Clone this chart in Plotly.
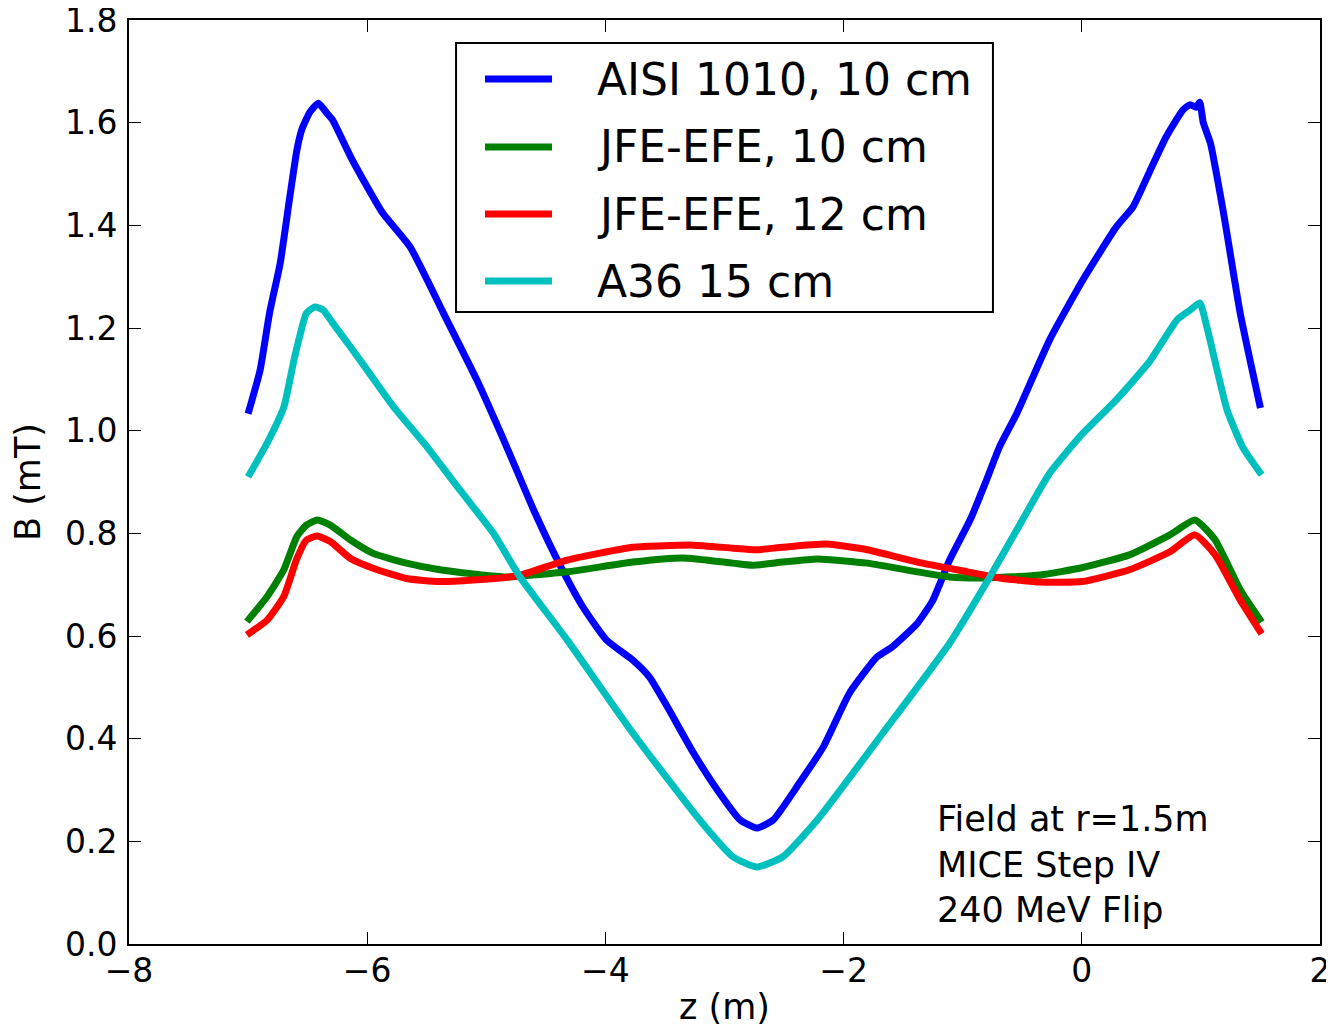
import plotly.graph_objects as go

# ---- data ----
aisi_z = [-7.00, -6.90, -6.82, -6.73, -6.65, -6.59, -6.55, -6.48, -6.41, -6.34, -6.29, -6.14,
          -6.00, -5.87, -5.64, -5.36, -5.08, -4.83, -4.59, -4.39, -4.19, -3.99, -3.77, -3.63,
          -3.48, -3.26, -3.06, -2.87, -2.73, -2.59, -2.37, -2.17, -1.95, -1.72, -1.59, -1.38,
          -1.25, -1.11, -0.93, -0.80, -0.69, -0.545, -0.27, 0.01, 0.29, 0.43, 0.57, 0.71,
          0.85, 0.91, 0.96, 0.99, 1.02, 1.08, 1.19, 1.33, 1.50]
aisi_b = [1.033, 1.117, 1.229, 1.327, 1.455, 1.547, 1.586, 1.621, 1.638, 1.619, 1.605, 1.534,
          1.475, 1.424, 1.358, 1.229, 1.099, 0.969, 0.839, 0.742, 0.657, 0.592, 0.553, 0.520,
          0.462, 0.372, 0.300, 0.242, 0.226, 0.242, 0.314, 0.384, 0.489, 0.559, 0.579, 0.625,
          0.670, 0.748, 0.830, 0.904, 0.969, 1.034, 1.177, 1.294, 1.397, 1.436, 1.505, 1.573,
          1.625, 1.635, 1.630, 1.640, 1.600, 1.560, 1.424, 1.229, 1.044]

jfe10_z = [-7.01, -6.84, -6.70, -6.59, -6.51, -6.42, -6.31, -6.14, -5.95, -5.67, -5.39, -5.11,
           -4.83, -4.32, -3.77, -3.35, -2.93, -2.76, -2.51, -2.22, -1.80, -1.38, -1.11, -0.83,
           -0.35, 0.00, 0.40, 0.74, 0.95, 1.12, 1.33, 1.51]
jfe10_b = [0.628, 0.677, 0.729, 0.794, 0.816, 0.826, 0.816, 0.787, 0.761, 0.742, 0.729, 0.721,
           0.715, 0.725, 0.744, 0.752, 0.742, 0.738, 0.744, 0.750, 0.742, 0.725, 0.715, 0.713,
           0.719, 0.733, 0.758, 0.797, 0.826, 0.787, 0.690, 0.627]

jfe12_z = [-7.01, -6.84, -6.70, -6.59, -6.51, -6.42, -6.31, -6.14, -5.95, -5.67, -5.39, -5.11,
           -4.74, -4.32, -3.77, -3.26, -2.93, -2.73, -2.51, -2.14, -1.80, -1.38, -0.96, -0.69,
           -0.35, 0.00, 0.40, 0.74, 0.95, 1.12, 1.33, 1.51]
jfe12_b = [0.602, 0.631, 0.677, 0.751, 0.787, 0.795, 0.784, 0.751, 0.732, 0.712, 0.706, 0.709,
           0.717, 0.748, 0.773, 0.777, 0.771, 0.768, 0.773, 0.779, 0.768, 0.744, 0.725, 0.713,
           0.705, 0.706, 0.729, 0.764, 0.797, 0.758, 0.670, 0.604]

a36_z = [-7.00, -6.84, -6.70, -6.62, -6.56, -6.51, -6.44, -6.37, -6.29, -6.14, -6.00, -5.78,
         -5.50, -5.22, -4.94, -4.72, -4.32, -3.77, -3.21, -2.93, -2.73, -2.51, -2.22, -1.67,
         -1.11, -0.77, -0.545, -0.27, 0.01, 0.29, 0.57, 0.80, 0.91, 0.99, 1.05, 1.13, 1.22,
         1.35, 1.51]
a36_b = [0.910, 0.976, 1.046, 1.132, 1.190, 1.229, 1.241, 1.235, 1.210, 1.163, 1.118, 1.047,
         0.969, 0.884, 0.800, 0.716, 0.592, 0.411, 0.242, 0.170, 0.150, 0.170, 0.242, 0.411,
         0.586, 0.716, 0.807, 0.917, 0.995, 1.060, 1.135, 1.216, 1.235, 1.249, 1.202, 1.124,
         1.040, 0.968, 0.914]

series_names = ["AISI 1010, 10 cm", "JFE-EFE, 10 cm", "JFE-EFE, 12 cm", "A36 15 cm"]
series_colors = ["#0000ff", "#008000", "#ff0000", "#00bfbf"]
series_z = [aisi_z, jfe10_z, jfe12_z, a36_z]
series_b = [aisi_b, jfe10_b, jfe12_b, a36_b]

y_ticks = [0.0, 0.2, 0.4, 0.6, 0.8, 1.0, 1.2, 1.4, 1.6, 1.8]
x_ticks = [-8, -6, -4, -2, 0, 2]

FONT = "DejaVu Sans"
LW = 7

fig = go.Figure()
for name, col, zs, bs in zip(series_names, series_colors, series_z, series_b):
    fig.add_trace(go.Scatter(
        x=zs, y=bs, mode="lines", name=name, showlegend=False,
        line=dict(color=col, width=LW, shape="spline", smoothing=0.5),
    ))

axis_common = dict(
    showline=True, linecolor="black", linewidth=2, mirror="ticks",
    ticks="inside", ticklen=12, tickwidth=1, tickcolor="black",
    showgrid=False, zeroline=False, automargin=False,
    ticklabeloverflow="allow",
    tickfont=dict(family=FONT, size=33, color="black"),
)

fig.update_xaxes(range=[-8, 2], tickvals=x_ticks, ticklabelstandoff=-4,
                 title=dict(text="z (m)", font=dict(family=FONT, size=35, color="black"), standoff=6),
                 **axis_common)
fig.update_yaxes(range=[0, 1.8], tickvals=y_ticks, tickformat=".1f", ticklabelstandoff=3,
                 title=dict(text="B (mT)", font=dict(family=FONT, size=35, color="black"), standoff=14),
                 **axis_common)

fig.add_annotation(
    xref="paper", yref="paper", x=0.6767, y=0.0855, xanchor="left", yanchor="middle",
    text="Field at r=1.5m<br>MICE Step IV<br>240 MeV Flip", showarrow=False, align="left",
    font=dict(family=FONT, size=35, color="black"),
)

# ---- legend box (drawn in paper coordinates) ----
leg_x0, leg_x1, leg_y0, leg_y1 = 0.2746, 0.7254, 0.684, 0.975
leg_line_x0, leg_line_x1, leg_text_x = 0.2989, 0.3552, 0.3913
leg_rows = [0.9361, 0.8626, 0.7900, 0.7175]

fig.add_shape(type="rect", xref="paper", yref="paper",
              x0=leg_x0, x1=leg_x1, y0=leg_y0, y1=leg_y1,
              line=dict(color="black", width=2), fillcolor="white", layer="above")
for name, col, ry in zip(series_names, series_colors, leg_rows):
    fig.add_shape(type="line", xref="paper", yref="paper",
                  x0=leg_line_x0, x1=leg_line_x1, y0=ry, y1=ry,
                  line=dict(color=col, width=LW), layer="above")
    fig.add_annotation(xref="paper", yref="paper", x=leg_text_x, y=ry,
                       xanchor="left", yanchor="middle", text=name, showarrow=False,
                       font=dict(family=FONT, size=44, color="black"))

# The page body has an 8 px margin, so the figure is sized to fit inside the window.
fig.update_layout(
    width=1326, height=1022,
    margin=dict(l=121, r=14, t=12, b=86),
    paper_bgcolor="white", plot_bgcolor="white",
    font=dict(family=FONT, color="black"),
    showlegend=False,
)

fig.write_html("out.html")
